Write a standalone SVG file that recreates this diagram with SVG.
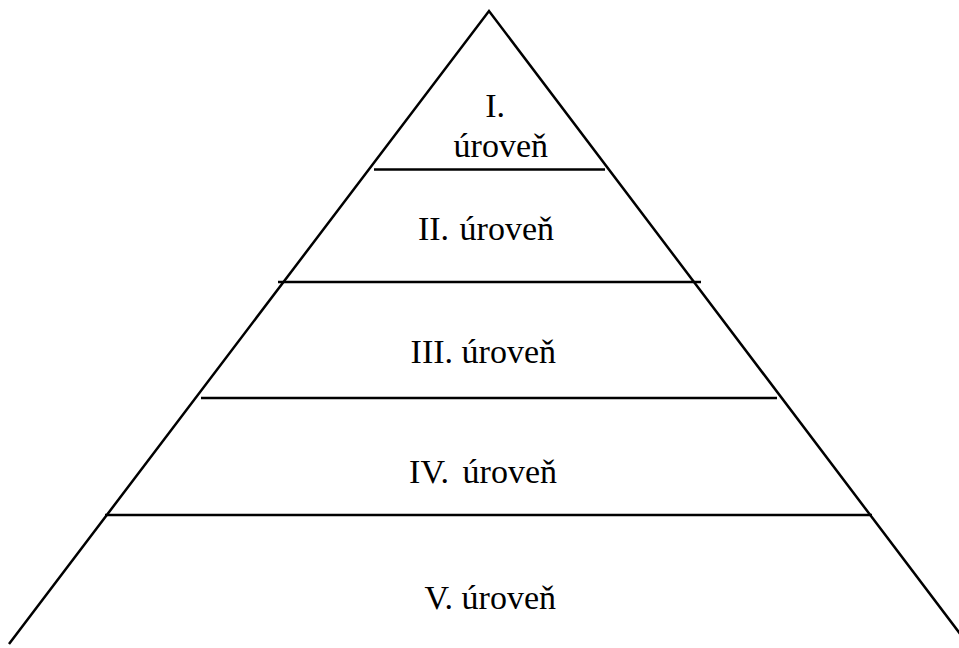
<svg xmlns="http://www.w3.org/2000/svg" width="959" height="648" viewBox="0 0 959 648">
<style>
.l{stroke:#000;stroke-width:2.5;fill:none}
.t{font-family:"Liberation Serif","Times New Roman",serif;font-size:34px;fill:#000;text-anchor:end}
</style>
<rect width="959" height="648" fill="#fff"/>
<g id="connectors">
<path class="l" d="M9,644 L489,11 L961,635"/>
<line class="l" x1="374" y1="169.5" x2="605" y2="169.5"/>
<line class="l" x1="278" y1="282" x2="701" y2="282"/>
<line class="l" x1="201" y1="398" x2="777" y2="398"/>
<line class="l" x1="105" y1="515" x2="872" y2="515"/>
</g>
<g id="level1"><text class="t" x="505" y="117">I.</text><text class="t" x="548" y="157">úroveň</text></g>
<g id="level2"><text class="t" x="554" y="240" word-spacing="2">II. úroveň</text></g>
<g id="level3"><text class="t" x="556" y="363">III. úroveň</text></g>
<g id="level4"><text class="t" x="557" y="483" word-spacing="5">IV. úroveň</text></g>
<g id="level5"><text class="t" x="556" y="609">V. úroveň</text></g>
</svg>
